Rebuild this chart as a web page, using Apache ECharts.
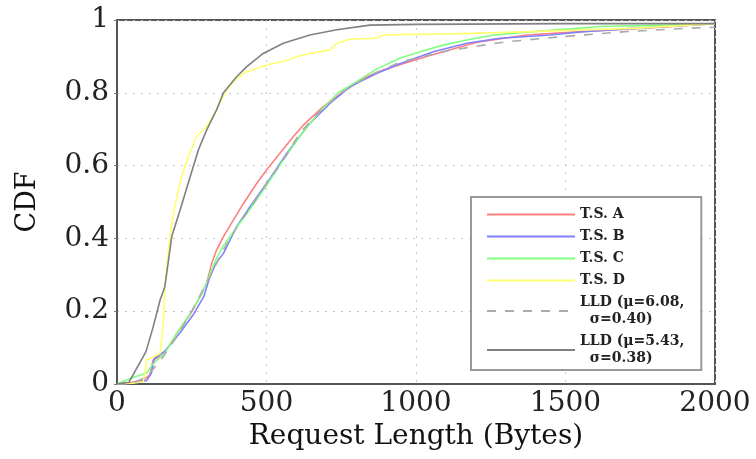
<!DOCTYPE html>
<html>
<head>
<meta charset="utf-8">
<script src="https://cdn.jsdelivr.net/npm/echarts@6/dist/echarts.min.js"></script>
<style>
html,body{margin:0;padding:0;background:#fff;}
#c{width:756px;height:459px;}
</style>
</head>
<body>
<div id="c"></div>
<script>
// Tick labels
const xTicks = [0, 500, 1000, 1500, 2000];
const yTicks = [0, 0.2, 0.4, 0.6, 0.8, 1];

// Series names
const seriesNames = ['T.S. A', 'T.S. B', 'T.S. C', 'T.S. D', 'LLD (\u03bc=6.08,\n  \u03c3=0.40)', 'LLD (\u03bc=5.43,\n  \u03c3=0.38)'];

// Series values: [request length (bytes), CDF]
const tsA = [[0,0],[40,0.003],[88,0.011],[110,0.025],[121,0.066],[155,0.08],[200,0.139],[244,0.19],[278,0.24],[300,0.277],[317,0.332],[333,0.368],[356,0.405],[389,0.45],[423,0.496],[467,0.551],[500,0.588],[545,0.634],[590,0.68],[623,0.711],[690,0.762],[757,0.803],[824,0.84],[891,0.863],[980,0.886],[1058,0.905],[1210,0.94],[1370,0.959],[1550,0.968],[1750,0.977],[2000,0.99]];
const tsB = [[0,0],[50,0.002],[100,0.01],[115,0.03],[125,0.07],[160,0.09],[210,0.14],[255,0.19],[290,0.24],[311,0.295],[330,0.33],[356,0.359],[400,0.432],[445,0.487],[512,0.565],[568,0.634],[645,0.716],[712,0.771],[780,0.817],[868,0.853],[946,0.88],[1058,0.913],[1170,0.936],[1281,0.95],[1448,0.959],[1560,0.968],[1728,0.977],[2000,0.99]];
const tsC = [[0,0],[30,0.01],[60,0.02],[100,0.03],[115,0.05],[140,0.07],[160,0.085],[200,0.14],[250,0.2],[285,0.25],[305,0.29],[330,0.34],[356,0.38],[400,0.43],[445,0.48],[500,0.545],[560,0.62],[620,0.69],[680,0.75],[740,0.8],[800,0.83],[868,0.865],[946,0.895],[1013,0.913],[1091,0.931],[1170,0.945],[1260,0.959],[1393,0.968],[1616,0.982],[1839,0.986],[2000,0.99]];
const tsD = [[0,0],[50,0.002],[88,0.006],[99,0.066],[144,0.084],[155,0.167],[160,0.267],[172,0.368],[183,0.441],[200,0.515],[216,0.57],[239,0.625],[266,0.68],[300,0.707],[333,0.753],[367,0.808],[400,0.84],[434,0.858],[467,0.867],[512,0.879],[556,0.886],[601,0.899],[645,0.908],[712,0.918],[735,0.936],[780,0.947],[868,0.95],[891,0.959],[1113,0.962],[1390,0.968],[1725,0.977],[2000,0.99]];
const lld608 = [[0,0],[60,0.005],[100,0.02],[150,0.07],[200,0.13],[250,0.2],[311,0.295],[350,0.36],[400,0.43],[450,0.49],[500,0.55],[560,0.62],[612,0.69],[680,0.75],[750,0.8],[850,0.85],[950,0.885],[1100,0.915],[1300,0.94],[1500,0.955],[1700,0.968],[1900,0.977],[2000,0.98]];
const lld543 = [[0,0],[40,0.005],[97,0.089],[121,0.157],[144,0.23],[160,0.267],[183,0.405],[211,0.478],[245,0.57],[272,0.643],[300,0.698],[333,0.753],[356,0.8],[400,0.844],[434,0.872],[489,0.908],[556,0.936],[645,0.959],[735,0.973],[846,0.986],[1000,0.988],[1500,0.99],[2000,0.99]];

const seriesData = [tsA, tsB, tsC, tsD, lld608, lld543];
const seriesColors = ['#ff8080', '#8080ff', '#80ff80', '#ffff70', '#aaaaaa', '#808080'];
const seriesDash = ['solid', 'solid', 'solid', 'solid', [9, 9], 'solid'];

const FONT = '"DejaVu Serif", "Liberation Serif", serif';

const chart = echarts.init(document.getElementById('c'), null, {renderer: 'canvas'});
chart.setOption({
  animation: false,
  backgroundColor: '#ffffff',
  grid: {left: 117, right: 41, top: 20, bottom: 75, show: true, borderColor: '#555', borderWidth: 2, backgroundColor: 'transparent'},
  xAxis: {
    type: 'value', min: xTicks[0], max: xTicks[xTicks.length - 1], interval: 500,
    name: 'Request Length (Bytes)', nameLocation: 'middle', nameGap: 31,
    nameTextStyle: {fontFamily: FONT, fontSize: 28, color: '#111'},
    axisLine: {show: true, lineStyle: {color: '#555', width: 2}},
    axisTick: {show: false},
    axisLabel: {fontFamily: FONT, fontSize: 28, color: '#222', margin: 6, formatter: v => String(v)},
    splitLine: {show: true, lineStyle: {color: '#c8c8c8', type: [2, 6], width: 1}}
  },
  yAxis: {
    type: 'value', min: yTicks[0], max: yTicks[yTicks.length - 1], interval: 0.2,
    name: 'CDF', nameLocation: 'middle', nameGap: 76, nameRotate: 90,
    nameTextStyle: {fontFamily: FONT, fontSize: 27, color: '#111'},
    axisLine: {show: true, lineStyle: {color: '#555', width: 2}},
    axisTick: {show: true, length: 3, lineStyle: {color: '#777'}},
    axisLabel: {fontFamily: FONT, fontSize: 28, color: '#222', margin: 8,
      formatter: v => (v === 0 || v === 1) ? String(v) : v.toFixed(1)},
    splitLine: {show: true, lineStyle: {color: '#c8c8c8', type: [2, 6], width: 1}}
  },
  legend: {
    show: true, orient: 'vertical', left: 471, top: 197,
    padding: [9, 17, 3, 15], itemGap: 5, itemWidth: 88, itemHeight: 10,
    borderColor: '#999', borderWidth: 2, backgroundColor: '#fff',
    itemStyle: {opacity: 0},
    textStyle: {fontFamily: FONT, fontSize: 14, fontWeight: 'bold', color: '#222', lineHeight: 17},
    data: seriesNames
  },
  series: seriesData.map((d, i) => ({
    name: seriesNames[i], type: 'line', data: d, showSymbol: false, symbol: 'none',
    lineStyle: {color: seriesColors[i], width: 1.6, type: seriesDash[i]},
    itemStyle: {color: seriesColors[i]},
    z: i === 5 ? 3 : 2
  }))
});
</script>
</body>
</html>
